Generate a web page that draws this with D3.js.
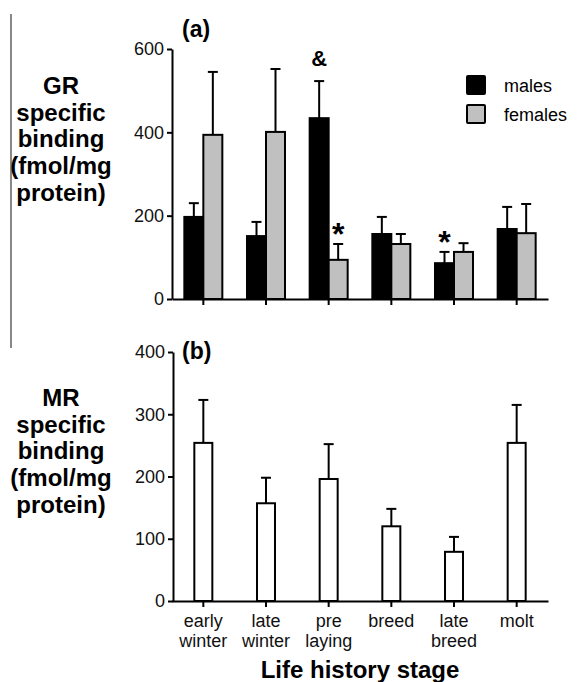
<!DOCTYPE html>
<html lang="en">
<head>
	<meta charset="UTF-8">
	<title>GR / MR binding</title>
	<style>
		body { margin: 0; background: #fff; }
		svg text { font-family: "Liberation Sans", Arial, sans-serif; }
		.axis path, .axis line { stroke: #000; stroke-width: 2px; }
		.axis text { font-size: 18px; fill: #111; }
	</style>
</head>
<body>
	<script src="https://d3js.org/d3.v7.min.js"></script>
	<script>
		// life history stages (tick labels split on two lines)
		var stages = ["early winter", "late winter", "pre laying", "breed", "late breed", "molt"];
		var stageLines = [["early", "winter"], ["late", "winter"], ["pre", "laying"], ["breed"], ["late", "breed"], ["molt"]];

		// (a) GR specific binding, mean and SEM
		var grMales = [197, 151, 434, 156, 86, 168];
		var grMalesErr = [33, 34, 89, 41, 27, 53];
		var grFemales = [394, 401, 94, 132, 113, 158];
		var grFemalesErr = [151, 151, 38, 24, 21, 70];
		var grTicks = [0, 200, 400, 600];

		// (b) MR specific binding, mean and SEM
		var mr = [254, 157, 196, 120, 79, 254];
		var mrErr = [69, 41, 56, 28, 24, 61];
		var mrTicks = [0, 100, 200, 300, 400];

		// significance marks
		var marks = [
			{stage: "pre laying", sex: "males", text: "&"},
			{stage: "pre laying", sex: "females", text: "*"},
			{stage: "late breed", sex: "males", text: "*"}
		];

		var w = 578, h = 682;
		var svg = d3.select("body").append("svg")
			.attr("width", w)
			.attr("height", h);

		var x = d3.scaleBand().domain(stages).range([172, 548]).padding(0);
		var barW = 19;

		// gray rule at left edge
		svg.append("line")
			.attr("x1", 11).attr("x2", 11)
			.attr("y1", 14).attr("y2", 348)
			.attr("stroke", "#888").attr("stroke-width", 2);

		function yTitle(lines, top) {
			var t = svg.append("text")
				.attr("text-anchor", "middle")
				.attr("font-weight", "bold")
				.attr("font-size", "24px")
				.attr("fill", "#000");
			lines.forEach(function(s, i) {
				t.append("tspan").attr("x", 61).attr("y", top + i * 26.7).text(s);
			});
		}

		function xAxis(g) {
			g.call(d3.axisBottom(x).tickSize(6).tickSizeOuter(0).tickFormat(""));
		}

		// ---------- panel (a) ----------
		var ya = d3.scaleLinear().domain([0, 600]).range([299, 49]);

		svg.append("g").attr("class", "axis")
			.attr("transform", "translate(172,0)")
			.call(d3.axisLeft(ya).tickValues(grTicks).tickSize(5).tickSizeOuter(0).tickPadding(3));

		var groups = [
			{key: "males", vals: grMales, err: grMalesErr, fill: "#000", off: -barW},
			{key: "females", vals: grFemales, err: grFemalesErr, fill: "#c0c0c0", off: 0}
		];

		groups.forEach(function(gr) {
			var cx = function(i) { return x(stages[i]) + x.bandwidth() / 2 + gr.off; };
			// error bars (upper only)
			svg.selectAll(null).data(gr.vals).enter().append("line")
				.attr("x1", function(d, i) { return cx(i) + barW / 2; })
				.attr("x2", function(d, i) { return cx(i) + barW / 2; })
				.attr("y1", function(d) { return ya(d); })
				.attr("y2", function(d, i) { return ya(d + gr.err[i]); })
				.attr("stroke", "#000").attr("stroke-width", 2);
			svg.selectAll(null).data(gr.vals).enter().append("line")
				.attr("x1", function(d, i) { return cx(i) + barW / 2 - 5; })
				.attr("x2", function(d, i) { return cx(i) + barW / 2 + 5; })
				.attr("y1", function(d, i) { return ya(d + gr.err[i]); })
				.attr("y2", function(d, i) { return ya(d + gr.err[i]); })
				.attr("stroke", "#000").attr("stroke-width", 2);
			svg.selectAll(null).data(gr.vals).enter().append("rect")
				.attr("x", function(d, i) { return cx(i); })
				.attr("y", function(d) { return ya(d); })
				.attr("width", barW)
				.attr("height", function(d) { return ya(0) - ya(d); })
				.attr("fill", gr.fill)
				.attr("stroke", "#000").attr("stroke-width", 2);
		});

		svg.append("g").attr("class", "axis")
			.attr("transform", "translate(0," + ya(0) + ")")
			.call(xAxis);

		// marks above error bars
		marks.forEach(function(m) {
			var gr = m.sex === "males" ? groups[0] : groups[1];
			var i = stages.indexOf(m.stage);
			var top = ya(gr.vals[i] + gr.err[i]);
			var amp = m.text === "&";
			svg.append("text")
				.attr("x", x(m.stage) + x.bandwidth() / 2 + gr.off + barW / 2)
				.attr("y", amp ? top - 15 : top + 1)
				.attr("text-anchor", "middle")
				.attr("font-weight", "bold")
				.attr("font-size", amp ? "22px" : "32px")
				.text(m.text);
		});

		// legend
		var legend = svg.append("g").attr("transform", "translate(467,76)");
		groups.forEach(function(gr, i) {
			legend.append("rect")
				.attr("x", 0).attr("y", i * 29)
				.attr("width", 18).attr("height", 18)
				.attr("fill", gr.fill)
				.attr("stroke", "#000").attr("stroke-width", 2).attr("rx", 1);
			legend.append("text")
				.attr("x", 37).attr("y", i * 29 + 16)
				.attr("font-size", "18px")
				.text(gr.key);
		});

		svg.append("text").attr("x", 182).attr("y", 37)
			.attr("font-weight", "bold").attr("font-size", "23px").text("(a)");

		yTitle(["GR", "specific", "binding", "(fmol/mg", "protein)"], 94);

		// ---------- panel (b) ----------
		var yb = d3.scaleLinear().domain([0, 400]).range([601, 352]);

		svg.append("g").attr("class", "axis")
			.attr("transform", "translate(173,0)")
			.call(d3.axisLeft(yb).tickValues(mrTicks).tickSize(5).tickSizeOuter(0).tickPadding(3));

		var bW = 18;
		var bx = function(i) { return x(stages[i]) + x.bandwidth() / 2; };

		svg.selectAll(null).data(mr).enter().append("line")
			.attr("x1", function(d, i) { return bx(i); })
			.attr("x2", function(d, i) { return bx(i); })
			.attr("y1", function(d) { return yb(d); })
			.attr("y2", function(d, i) { return yb(d + mrErr[i]); })
			.attr("stroke", "#000").attr("stroke-width", 2);
		svg.selectAll(null).data(mr).enter().append("line")
			.attr("x1", function(d, i) { return bx(i) - 5; })
			.attr("x2", function(d, i) { return bx(i) + 5; })
			.attr("y1", function(d, i) { return yb(d + mrErr[i]); })
			.attr("y2", function(d, i) { return yb(d + mrErr[i]); })
			.attr("stroke", "#000").attr("stroke-width", 2);
		svg.selectAll(null).data(mr).enter().append("rect")
			.attr("x", function(d, i) { return bx(i) - bW / 2; })
			.attr("y", function(d) { return yb(d); })
			.attr("width", bW)
			.attr("height", function(d) { return yb(0) - yb(d); })
			.attr("fill", "#fff")
			.attr("stroke", "#000").attr("stroke-width", 2);

		svg.append("g").attr("class", "axis")
			.attr("transform", "translate(0," + yb(0) + ")")
			.call(xAxis);

		// two-line stage labels
		stages.forEach(function(s, i) {
			var t = svg.append("text")
				.attr("text-anchor", "middle")
				.attr("font-size", "18px")
				.attr("fill", "#111");
			stageLines[i].forEach(function(line, j) {
				t.append("tspan").attr("x", bx(i)).attr("y", 627 + j * 20).text(line);
			});
		});

		svg.append("text").attr("x", 182).attr("y", 359)
			.attr("font-weight", "bold").attr("font-size", "23px").text("(b)");

		yTitle(["MR", "specific", "binding", "(fmol/mg", "protein)"], 406);

		svg.append("text")
			.attr("x", 360).attr("y", 678)
			.attr("text-anchor", "middle")
			.attr("font-weight", "bold")
			.attr("font-size", "24px")
			.text("Life history stage");
	</script>
</body>
</html>
